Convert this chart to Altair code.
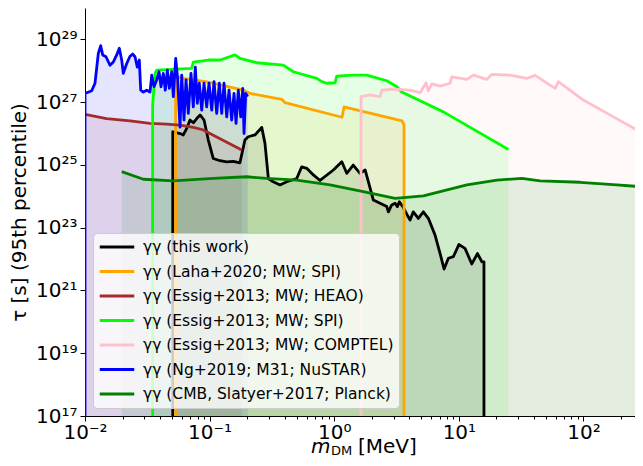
import altair as alt
import pandas as pd

# ---------------- data ----------------
NAMES = [
    "γγ (this work)",
    "γγ (Laha+2020; MW; SPI)",
    "γγ (Essig+2013; MW; HEAO)",
    "γγ (Essig+2013; MW; SPI)",
    "γγ (Essig+2013; MW; COMPTEL)",
    "γγ (Ng+2019; M31; NuSTAR)",
    "γγ (CMB, Slatyer+2017; Planck)",
]
COLORS = ["black", "orange", "brown", "lime", "pink", "blue", "green"]

this_x = [0.0506, 0.0506, 0.0579, 0.0615, 0.0655, 0.0696, 0.0740, 0.0788, 0.0838, 0.0902,
          0.0976, 0.107, 0.121, 0.137, 0.155, 0.175, 0.192, 0.204, 0.231, 0.262,
          0.278, 0.296, 0.324, 0.367, 0.416, 0.500, 0.548, 0.602, 0.680, 0.769,
          0.984, 1.15, 1.26, 1.42, 1.61, 1.77, 2.06, 2.33, 2.64, 2.72,
          2.89, 3.08, 3.21, 3.33, 3.55, 3.86, 4.06, 4.31, 4.73, 5.19,
          5.69, 6.44, 7.07, 7.61, 8.24, 9.03, 10.0, 11.2, 12.7, 14.1,
          15.3, 15.9, 15.9]
this_y = [1e17, 1.14e26, 1.0e26, 9.0e25, 1.46e26, 2.7e26, 2.2e26, 3.0e26, 3.9e26, 2.7e26,
          6.2e25, 1.6e25, 1.36e25, 1.26e25, 1.3e25, 1.17e25, 6.2e25, 7.9e25, 9.0e25, 1.57e26,
          4.9e25, 3.7e24, 2.9e24, 2.3e24, 2.9e24, 3.7e24, 8.7e24, 7.8e24, 4.8e24, 3.2e24,
          6.9e24, 1.26e25, 5.4e24, 9.9e24, 5.4e24, 6.9e24, 7.6e23, 6.0e23, 4.7e23, 3.2e23,
          5.3e23, 6.0e23, 4.7e23, 6.7e23, 4.7e23, 2.5e23, 1.75e23, 3.2e23, 1.99e23, 3.2e23,
          1.99e23, 5.8e22, 1.5e22, 4.8e21, 1.06e22, 1.19e22, 2.9e22, 2.2e22, 7.0e21, 1.5e22,
          8.2e21, 8.2e21, 1e17]

laha_x = [0.0533, 0.0533, 0.0615, 0.0953, 0.187, 0.211, 0.379, 0.403, 1.155, 1.199, 3.50, 3.63, 3.63]
laha_y = [1e17, 6.8e27, 5.7e27, 4.4e27, 2.4e27, 1.9e27, 1.23e27, 9.6e26, 3.3e26, 7.1e26, 2.55e26, 1.86e26, 1e17]

heao_x = [0.0100, 0.0149, 0.0230, 0.0332, 0.0453, 0.0579, 0.0740, 0.0880, 0.181]
heao_y = [4.1e26, 3.0e26, 2.55e26, 2.1e26, 2.0e26, 1.86e26, 1.57e26, 1.32e26, 3.0e25]

spi_x = [0.0349, 0.0349, 0.0365, 0.0376, 0.0718, 0.0740, 0.0976, 0.121, 0.160, 0.175,
         0.239, 0.390, 0.470, 0.724, 0.794, 0.871, 1.015, 1.047, 1.42, 1.82,
         2.64, 3.18, 3.48, 7.51, 25.0]
spi_y = [1e17, 8.1e26, 8.3e27, 1.05e28, 1.2e28, 1.9e28, 2.2e28, 2.2e28, 3.2e28, 2.5e28,
         1.8e28, 1.52e28, 9.3e27, 5.7e27, 4.5e27, 4.0e27, 4.15e27, 6.8e27, 7.3e27, 7.3e27,
         4.8e27, 3.1e27, 2.1e27, 4.9e26, 3.1e25]

comptel_x = [1.64, 1.64, 1.94, 2.33, 2.41, 2.98, 4.06, 4.88, 5.46, 5.69,
             6.06, 7.07, 8.50, 8.77, 11.6, 13.1, 16.7, 18.4, 25.8, 35.1,
             40.9, 59.2, 62.9, 99.8, 174.0, 301.0]
comptel_y = [1e17, 1.5e27, 1.7e27, 1.5e27, 2.4e27, 2.6e27, 2.4e27, 2.0e27, 4.15e27, 2.3e27,
             3.8e27, 3.26e27, 4.0e27, 6.4e27, 5.3e27, 7.3e27, 5.3e27, 7.7e27, 7.3e27, 5.7e27,
             7.1e27, 2.75e27, 4.5e27, 1.17e27, 3.4e26, 1.0e26]

nustar_x = [0.0100, 0.0100, 0.01132, 0.01203, 0.01279, 0.01337, 0.01387, 0.01474, 0.01587, 0.01687,
            0.01796, 0.01885, 0.01970, 0.02029, 0.02162, 0.02297, 0.02415, 0.02519, 0.02629, 0.02728,
            0.02799, 0.02938, 0.03129, 0.03324, 0.03430, 0.03578, 0.03761, 0.03927, 0.04074, 0.04250,
            0.04410, 0.04577, 0.04750, 0.04963, 0.05112, 0.05345, 0.05546, 0.05786, 0.05971, 0.06230,
            0.06466, 0.06746, 0.07088, 0.07397, 0.07675, 0.07965, 0.08265, 0.08642, 0.09017, 0.09478,
            0.0989, 0.1040, 0.1085, 0.1140, 0.1196, 0.1251, 0.1305, 0.1372, 0.1431, 0.1504,
            0.1570, 0.1629, 0.1699, 0.1777, 0.1844, 0.1889, 0.1949, 0.2023]
nustar_y = [1e17, 1.9e27, 2.3e27, 4.0e27, 3.6e28, 6.3e28, 3.2e28, 2.8e28, 1.5e28, 1.9e28,
            3.2e28, 5.2e28, 2.2e28, 8.3e27, 1.7e28, 2.9e28, 3.4e28, 2.8e28, 1.3e28, 2.2e28,
            2.4e27, 2.1e27, 2.4e27, 2.1e27, 7.3e27, 3.1e27, 5.1e27, 9.3e27, 3.1e27, 8.3e27,
            2.4e27, 1.05e28, 2.75e27, 9.3e27, 1.5e27, 2.5e28, 5.1e27, 1.6e26, 7.3e27, 2.7e26,
            5.1e27, 4.4e26, 8.3e27, 7.1e26, 1.3e28, 9.2e26, 4.0e27, 5.6e26, 4.0e27, 7.1e26,
            4.0e27, 5.6e26, 4.5e27, 4.4e26, 4.0e27, 4.4e26, 4.0e27, 3.4e26, 2.4e27, 2.7e26,
            1.9e27, 2.1e26, 2.4e27, 3.4e26, 2.75e27, 1.0e26, 1.9e27, 1.5e27]

cmb_x = [0.0197, 0.0294, 0.0511, 0.107, 0.199, 0.287, 0.500, 0.925, 1.71, 3.08,
         5.19, 11.6, 20.2, 32.0, 44.9, 93.9, 185.0, 301.0]
cmb_y = [6.1e24, 3.5e24, 3.1e24, 3.7e24, 4.2e24, 3.7e24, 3.3e24, 2.3e24, 1.4e24, 8.6e23,
         1.04e24, 2.3e24, 3.3e24, 3.7e24, 3.1e24, 2.8e24, 2.3e24, 2.0e24]

SERIES_X = [this_x, laha_x, heao_x, spi_x, comptel_x, nustar_x, cmb_x]
SERIES_Y = [this_y, laha_y, heao_y, spi_y, comptel_y, nustar_y, cmb_y]

X_TICKS = [0.01, 0.1, 1, 10, 100]
X_TICK_LABELS = ["10⁻²", "10⁻¹", "10⁰", "10¹", "10²"]
X_MINOR = [k * d for d in (0.01, 0.1, 1, 10, 100) for k in range(2, 10)]
Y_TICKS = [1e17, 1e19, 1e21, 1e23, 1e25, 1e27, 1e29]
Y_TICK_LABELS = ["10¹⁷", "10¹⁹", "10²¹", "10²³", "10²⁵", "10²⁷", "10²⁹"]

X_DOMAIN = [0.01, 259]
Y_DOMAIN = [1e17, 1e30]
Y_FLOOR = 1e17

# ---------------- build ----------------
rows = []
for name, xs, ys in zip(NAMES, SERIES_X, SERIES_Y):
    for i, (xv, yv) in enumerate(zip(xs, ys)):
        rows.append({"s": name, "x": xv, "y": yv, "i": i})
df = pd.DataFrame(rows)


def label_expr(vals, labels):
    e = f"'{labels[-1]}'"
    for v, l in reversed(list(zip(vals[:-1], labels[:-1]))):
        e = f"datum.value < {v * 3!r} ? '{l}' : ({e})"
    return e


FONT = "DejaVu Sans"
xscale = alt.Scale(type="log", domain=X_DOMAIN, nice=False)
yscale = alt.Scale(type="log", domain=Y_DOMAIN, nice=False)
xaxis = alt.Axis(values=X_TICKS, labelExpr=label_expr(X_TICKS, X_TICK_LABELS), title=None,
                 orient="bottom", labelBaseline="alphabetic", labelPadding=17,
                 labelFlush=False, labelOverlap=False)
yaxis = alt.Axis(values=Y_TICKS, labelExpr=label_expr(Y_TICKS, Y_TICK_LABELS),
                 title="τ [s] (95th percentile)", labelPadding=3, titlePadding=6,
                 labelFlush=False, labelOverlap=False, labelBaseline="middle")

legend = alt.Legend(title=None, orient="none", legendX=8, legendY=225,
                    symbolType="M-2.3,0H2.3", symbolSize=225, symbolStrokeWidth=3,
                    labelFontSize=15.5, labelFont=FONT, labelColor="black", labelLimit=0,
                    fillColor="rgba(255,255,255,0.8)", strokeColor="#cccccc",
                    cornerRadius=4, padding=5, rowPadding=6.5, symbolOffset=10, labelOffset=17)
color = alt.Color("s:N", scale=alt.Scale(domain=NAMES, range=COLORS), legend=legend)

base = alt.Chart(df)
areas = []
lines = []
for name, col in zip(NAMES, COLORS):
    areas.append(
        base.transform_filter(alt.datum.s == name)
        .transform_filter(alt.datum.y > 2 * Y_FLOOR)
        .mark_area(color=col, opacity=0.1, clip=True)
        .encode(x=alt.X("x:Q", scale=xscale, axis=xaxis),
                y=alt.Y("y:Q", scale=yscale, axis=yaxis),
                y2=alt.datum(Y_FLOOR))
    )
    lines.append(
        base.transform_filter(alt.datum.s == name)
        .mark_line(strokeWidth=2.8, clip=True, strokeJoin="round")
        .encode(x=alt.X("x:Q", scale=xscale, axis=xaxis),
                y=alt.Y("y:Q", scale=yscale, axis=yaxis),
                color=color, order="i:Q")
    )

data_layer = alt.layer(*areas, *lines)

minor = alt.Chart(pd.DataFrame({"x": X_MINOR})).mark_point(opacity=0).encode(
    x=alt.X("x:Q", scale=xscale,
            axis=alt.Axis(values=X_MINOR, labels=False, ticks=True, tickSize=3,
                          domain=False, grid=False, title=None, orient="bottom"))
)

tdf = pd.DataFrame({"a": [0]})
t_m = alt.Chart(tdf).mark_text(font=FONT, fontSize=20, fontStyle="italic", align="left",
                               baseline="alphabetic").encode(
    x=alt.value(226), y=alt.value(445), text=alt.value("m"))
t_dm = alt.Chart(tdf).mark_text(font=FONT, fontSize=13, align="left",
                                baseline="alphabetic").encode(
    x=alt.value(246), y=alt.value(447), text=alt.value("DM"))
t_mev = alt.Chart(tdf).mark_text(font=FONT, fontSize=20, align="left",
                                 baseline="alphabetic").encode(
    x=alt.value(273), y=alt.value(445), text=alt.value("[MeV]"))

chart = (
    alt.layer(data_layer, minor, t_m, t_dm, t_mev)
    .resolve_axis(x="independent")
    .properties(width=550, height=408,
                autosize=alt.AutoSizeParams(type="none"),
                padding={"left": 77, "top": 0, "right": 0, "bottom": 42},
                background="white")
    .configure_view(stroke=None)
    .configure_axis(domainColor="black", tickColor="black", labelColor="black",
                    titleColor="black", labelFont=FONT, titleFont=FONT,
                    labelFontSize=20, titleFontSize=20, titleFontWeight="normal",
                    tickSize=5, domainWidth=1, tickWidth=1, grid=False)
)

chart.save("out.html", embed_options={"renderer": "svg", "actions": False})
